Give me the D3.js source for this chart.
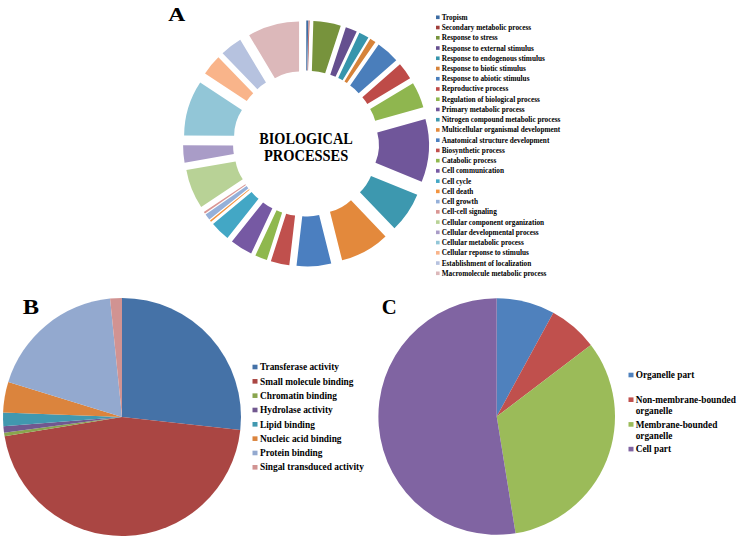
<!DOCTYPE html>
<html>
<head>
<meta charset="utf-8">
<script src="https://cdn.jsdelivr.net/npm/d3@7"></script>
<style>
html,body{margin:0;padding:0;background:#fff;}
svg{display:block;}
text{font-family:"Liberation Serif","Times New Roman",serif;font-weight:bold;fill:#000;}
</style>
</head>
<body>
<svg id="chart" width="740" height="539"></svg>
<script>
// ---------- Data ----------
const bpCategories = [
  "Tropism","Secondary metabolic process","Response to stress","Response to external stimulus",
  "Response to endogenous stimulus","Response to biotic stimulus","Response to abiotic stimulus",
  "Reproductive process","Regulation of biological process","Primary metabolic process",
  "Nitrogen compound metabolic process","Multicellular organismal development",
  "Anatomical structure development","Biosynthetic process","Catabolic process",
  "Cell communication","Cell cycle","Cell death","Cell growth","Cell-cell signaling",
  "Cellular component organization","Cellular developmental process","Cellular metabolic process",
  "Cellular reponse to stimulus","Establishment of localization","Macromolecule metabolic process"
];
const bpValues = [0.33,0.14,4.58,1.92,1.68,1.01,3.89,2.83,4.31,10.49,6.69,8.22,5.75,3.10,2.03,3.72,3.31,0.28,1.03,0.33,6.57,2.86,9.22,3.44,3.67,8.60];
const bpColors = ["#3d6ca3","#a03e3b","#77933c","#654f8f","#3795ac","#d6833a","#4a7ebb","#be4b48","#8fb64f","#70569a","#3d98af","#e3893c","#4b7fc0","#c0504d","#8fb84e","#7659a3","#43a7c5","#f29440","#95b0d9","#d99694","#b8d296","#a99cc7","#92c6d7","#f9b48a","#b6c2df","#dcb8ba"];

const mfCategories = ["Transferase activity","Small molecule binding","Chromatin binding","Hydrolase activity","Lipid binding","Nucleic acid binding","Protein binding","Singal transduced activity"];
const mfValues = [26.75,45.65,0.5,0.86,1.84,4.16,18.64,1.6];
const mfColors = ["#4572a7","#aa4643","#89a54e","#71588f","#4198af","#db843d","#93a9cf","#d19392"];

const ccCategories = ["Organelle part","Non-membrane-bounded organelle","Membrane-bounded organelle","Cell part"];
const ccValues = [7.95,6.7,32.8,52.55];
const ccColors = ["#4f81bd","#c0504d","#9bbb59","#8064a2"];

const panelLabels = ["A","B","C"];
const centerTitle = ["BIOLOGICAL","PROCESSES"];

// ---------- Drawing ----------
const svg = d3.select("#chart");
const pie = d3.pie().sort(null).value(d => d);

// font size so that a reference string gets a target width
function fitSize(str, target){
  const t = svg.append("text").attr("font-size",10).text(str);
  const w = t.node().getComputedTextLength();
  t.remove();
  return 10 * target / w;
}

// Panel A: exploded doughnut
(function(){
  const cx = 306, cy = 143.5, rIn = 47, rOut = 97, explode = 26;
  const arc = d3.arc().innerRadius(rIn).outerRadius(rOut);
  const g = svg.append("g").attr("transform", `translate(${cx},${cy})`);
  g.selectAll("path").data(pie(bpValues)).join("path")
    .attr("d", arc)
    .attr("fill", (d,i) => bpColors[i])
    .attr("transform", d => {
      const a = (d.startAngle + d.endAngle) / 2;
      return `translate(${explode*Math.sin(a)},${-explode*Math.cos(a)})`;
    });
  const t = svg.append("g");
  t.append("text").attr("x", 259.3).attr("y", 144).attr("font-size", 16)
    .attr("textLength", 93.4).attr("lengthAdjust","spacingAndGlyphs").text(centerTitle[0]);
  t.append("text").attr("x", 264).attr("y", 160.7).attr("font-size", 16)
    .attr("textLength", 84.3).attr("lengthAdjust","spacingAndGlyphs").text(centerTitle[1]);

  const fs = fitSize(bpCategories[10], 119);
  const leg = svg.append("g");
  const rows = leg.selectAll("g").data(bpCategories).join("g")
    .attr("transform", (d,i) => `translate(436,${17.3 + i*10.24})`);
  rows.append("rect").attr("x",0).attr("y",-1.8).attr("width",3.6).attr("height",3.6)
    .attr("fill",(d,i)=>bpColors[i]);
  rows.append("text").attr("x",5.7).attr("y",0).attr("dy","0.34em")
    .attr("font-size",fs).text(d=>d);
})();

// Panel B: pie
(function(){
  const cx = 122, cy = 417, r = 119;
  const arc = d3.arc().innerRadius(0).outerRadius(r);
  const g = svg.append("g").attr("transform", `translate(${cx},${cy})`);
  g.selectAll("path").data(pie(mfValues)).join("path")
    .attr("d", arc).attr("fill",(d,i)=>mfColors[i]);
  const fs = fitSize(mfCategories[7], 104);
  const leg = svg.append("g");
  const rows = leg.selectAll("g").data(mfCategories).join("g")
    .attr("transform",(d,i)=>`translate(252.5,${367 + i*14.33})`);
  rows.append("rect").attr("x",0).attr("y",-2.3).attr("width",5).attr("height",4.6)
    .attr("fill",(d,i)=>mfColors[i]);
  rows.append("text").attr("x",7.5).attr("y",0).attr("dy","0.34em")
    .attr("font-size",fs).text(d=>d);
})();

// Panel C: pie
(function(){
  const cx = 496.7, cy = 416.5, r = 118.3;
  const arc = d3.arc().innerRadius(0).outerRadius(r);
  const g = svg.append("g").attr("transform", `translate(${cx},${cy})`);
  g.selectAll("path").data(pie(ccValues)).join("path")
    .attr("d", arc).attr("fill",(d,i)=>ccColors[i]);
  const fs = fitSize("Non-membrane-bounded", 100.3);
  const leg = svg.append("g");
  const maxW = 102;
  ccCategories.forEach((label,i) => {
    const row = leg.append("g").attr("transform",`translate(628.5,${375 + i*24.7})`);
    row.append("rect").attr("x",0).attr("y",-2.3).attr("width",5).attr("height",4.6).attr("fill",ccColors[i]);
    const txt = row.append("text").attr("x",7.2).attr("y",0).attr("font-size",fs);
    const words = label.split(" ");
    let line = [];
    let tspan = txt.append("tspan").attr("x",7.2).attr("dy","0.34em");
    words.forEach(w => {
      line.push(w);
      tspan.text(line.join(" "));
      if (tspan.node().getComputedTextLength() > maxW && line.length > 1) {
        line.pop(); tspan.text(line.join(" "));
        line = [w];
        tspan = txt.append("tspan").attr("x",7.2).attr("dy","1.2em").text(w);
      }
    });
  });
})();

// Panel labels
svg.append("text").attr("x",168.3).attr("y",20.7).attr("font-size",18)
  .attr("textLength",17).attr("lengthAdjust","spacingAndGlyphs").text(panelLabels[0]);
svg.append("text").attr("x",22.7).attr("y",314).attr("font-size",20)
  .attr("textLength",16.3).attr("lengthAdjust","spacingAndGlyphs").text(panelLabels[1]);
svg.append("text").attr("x",381.7).attr("y",314).attr("font-size",21)
  .attr("textLength",15).attr("lengthAdjust","spacingAndGlyphs").text(panelLabels[2]);
</script>
</body>
</html>
